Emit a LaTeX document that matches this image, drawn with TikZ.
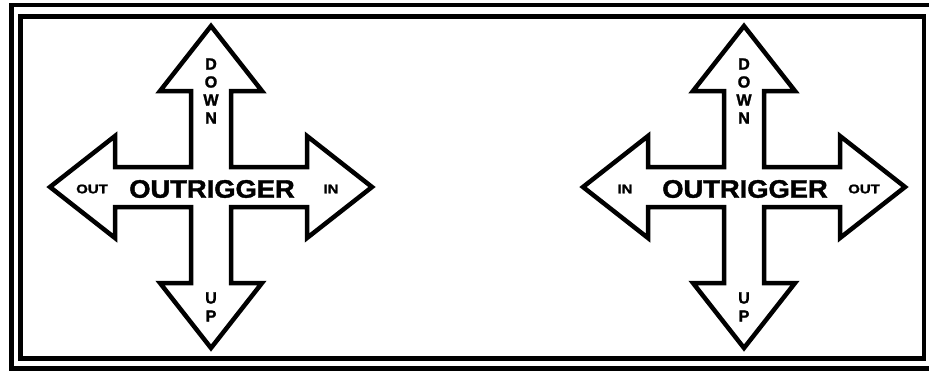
\documentclass[tikz,border=0pt]{standalone}
\usepackage{fontspec}
\setmainfont{Liberation Sans}
\newfontfamily\heavyfont{Liberation Sans Bold}[FakeBold=1.5]
\usepackage{graphicx}
\usetikzlibrary{positioning,calc}

\begin{document}
\begin{tikzpicture}[x=0.02cm,y=-0.02cm]
    \tikzstyle{frame}=[draw=black,line width=0.09cm]
    \tikzstyle{cross}=[draw=black,fill=white,line width=0.09cm,line join=miter]
    \tikzstyle{big label}=[font=\heavyfont\fontsize{14.4}{16}\selectfont,inner sep=0pt]
    \tikzstyle{small label}=[font=\heavyfont\fontsize{7.1}{8}\selectfont,inner sep=0pt]
    \tikzstyle{letter}=[font=\heavyfont\fontsize{9.2}{10}\selectfont,inner sep=0pt]

    % Clip to the sign
    \clip (0,0) rectangle (929,373);
    \fill[white] (0,0) rectangle (929,373);

    % Draw the double frame
    \draw[frame] (11.5,5) rectangle (934,368.5);
    \draw[frame] (20.5,16.5) rectangle (924,358.5);

    % Draw the two crosses with their labels
    \foreach \cx/\lft/\rgt/\n in {211/OUT/IN/1, 744/IN/OUT/2}
    {
      \begin{scope}[shift={(\cx,187)}]
        \draw[cross] (0,-161) -- (51,-96) -- (20,-96) -- (20,-20) -- (96,-20) -- (96,-51)
          -- (161,0) -- (96,51) -- (96,20) -- (20,20) -- (20,96) -- (51,96)
          -- (0,161) -- (-51,96) -- (-20,96) -- (-20,20) -- (-96,20) -- (-96,51)
          -- (-161,0) -- (-96,-51) -- (-96,-20) -- (-20,-20) -- (-20,-96) -- (-51,-96) -- cycle;
        \node[big label] (title-\n) at (1,2) {\scalebox{1.08}[1]{OUTRIGGER}};
        \node[small label] (left-\n) at (-119,2) {\scalebox{1.2}[1]{\lft}};
        \node[small label] (right-\n) at (120,2) {\scalebox{1.2}[1]{\rgt}};
        \foreach \ch [count=\k] in {D,O,W,N}
          \node[letter] (down-\n-\k) at (0,-141+18*\k) {\ch};
        \foreach \ch [count=\k] in {U,P}
          \node[letter] (up-\n-\k) at (0,93+18*\k) {\ch};
      \end{scope}
    }
\end{tikzpicture}
\end{document}
